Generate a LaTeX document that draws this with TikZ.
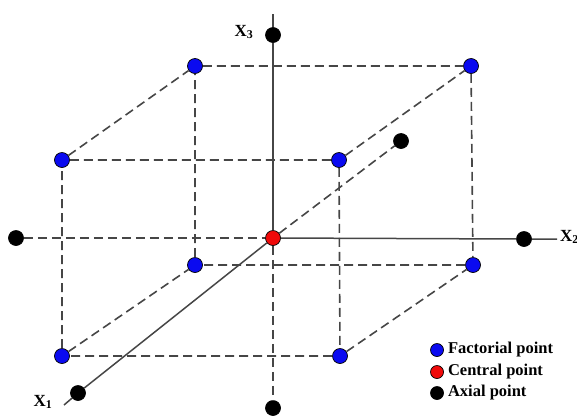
\documentclass[tikz,border=0pt]{standalone}
\usepackage{fontspec}
\setmainfont{Liberation Serif}
\definecolor{factblue}{RGB}{10, 10, 240}
\definecolor{centred}{RGB}{240, 10, 10}
\definecolor{linegray}{RGB}{70, 70, 70}
\usepackage{tikz}
\usetikzlibrary{positioning}

\begin{document}
\begin{tikzpicture}[
  x=1pt, y=-1pt,
  dot/.style={circle, draw=black, line width=0.7pt, inner sep=0pt, minimum size=15pt},
  fdot/.style={dot, fill=factblue},
  cdot/.style={dot, fill=centred},
  adot/.style={dot, fill=black},
  ldot/.style={dot, minimum size=13pt},
  edge/.style={draw=linegray, line width=1.6pt, dash pattern=on 9pt off 5pt},
  axis/.style={draw=linegray, line width=1.5pt},
  axlabel/.style={font=\fontsize{17}{20}\selectfont\bfseries, inner sep=0pt},
  legtext/.style={font=\fontsize{16.5}{19}\selectfont\bfseries, inner sep=0pt, anchor=west}
]
  \useasboundingbox (0,0) rectangle (577,416);

  % centre and axial points
  \node[cdot] (o) at (273,238) {};
  \node[adot] (ax3) at (273,35) {};
  \node[adot] (ax3m) at (273,408) {};
  \node[adot] (ax2m) at (16,238) {};
  \node[adot] (ax2) at (524,239) {};
  \node[adot] (ax1m) at (401,141) {};
  \node[adot] (ax1) at (78,393) {};
  \coordinate (x3end) at (273,14);
  \coordinate (x2end) at (557,239);
  \coordinate (x1end) at (64,405);

  % factorial points: back face
  \node[fdot] (btl) at (195,66) {};
  \node[fdot] (btr) at (471,66) {};
  \node[fdot] (bbl) at (195,265) {};
  \node[fdot] (bbr) at (473,265) {};
  % factorial points: front face
  \node[fdot] (ftl) at (62,160) {};
  \node[fdot] (ftr) at (339,160) {};
  \node[fdot] (fbl) at (62,356) {};
  \node[fdot] (fbr) at (340,356) {};

  % cube edges
  \draw[edge] (btl) -- (btr) -- (bbr) -- (bbl) -- (btl);
  \draw[edge] (ftl) -- (ftr) -- (fbr) -- (fbl) -- (ftl);
  \draw[edge] (ftl) -- (btl);
  \draw[edge] (ftr) -- (btr);
  \draw[edge] (fbl) -- (bbl);
  \draw[edge] (fbr) -- (bbr);

  % axes
  \draw[axis] (x3end) -- (ax3) -- (o);
  \draw[edge] (o) -- (ax3m);
  \draw[edge] (ax2m) -- (o);
  \draw[axis] (o) -- (ax2) -- (x2end);
  \draw[axis] (o) -- (ax1) -- (x1end);
  \draw[edge] (o) -- (ax1m);

  % axis labels
  \node[axlabel] (lx3) at (244,32) {X\textsubscript{3}};
  \node[axlabel, anchor=west] (lx2) at (560,237) {X\textsubscript{2}};
  \node[axlabel] (lx1) at (43,402) {X\textsubscript{1}};

  % legend
  \node[fdot, ldot] (lgf) at (437,350) {};
  \node[cdot, ldot] (lgc) at (437,372) {};
  \node[adot, ldot] (lga) at (437,393) {};
  \node[legtext, right=4pt of lgf] (tf) {Factorial point};
  \node[legtext, right=4pt of lgc] (tc) {Central point};
  \node[legtext, right=4pt of lga] (ta) {Axial point};
\end{tikzpicture}
\end{document}
